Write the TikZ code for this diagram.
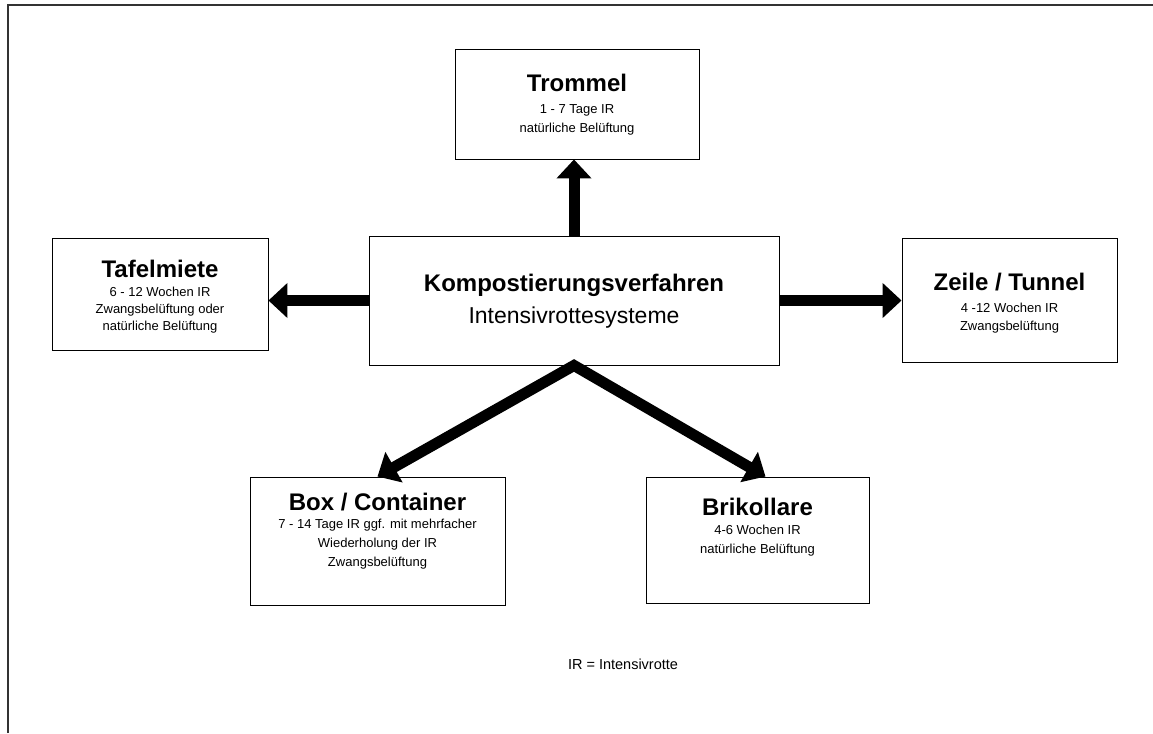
\documentclass[tikz,border=0pt]{standalone}
\usepackage{fontspec}
\setmainfont{Liberation Sans}
\usetikzlibrary{arrows.meta,calc}
\begin{document}
\begin{tikzpicture}[x=1pt,y=-1pt,
  box/.style={draw=black, line width=0.9pt, inner sep=0pt},
  ttl/.style={anchor=base, font=\fontsize{24}{28}\selectfont\bfseries, inner sep=0pt},
  sub/.style={anchor=base, font=\fontsize{13}{18.5}\selectfont, align=center, inner sep=0pt},
  bigarrow/.style={line width=11pt, line join=miter, -{Triangle[width=34pt,length=19pt]}},
  frameline/.style={line width=1.6pt, draw=black!80}]
\useasboundingbox (0,0) rectangle (1153,733);

% frame
\coordinate (fbl) at (8,733);
\coordinate (ftl) at (8,5);
\coordinate (ftr) at (1153,5);
\draw[frameline] (fbl) -- (ftl) -- (ftr);

% boxes
\node[box, minimum width=244pt, minimum height=110pt] (trommel) at (577,104) {};
\node[box, minimum width=410pt, minimum height=129pt] (center) at (574,300.5) {};
\node[box, minimum width=216pt, minimum height=112pt] (tafel) at (160,294) {};
\node[box, minimum width=215pt, minimum height=124pt] (zeile) at (1009.5,300) {};
\node[box, minimum width=255pt, minimum height=128pt] (boxc) at (377.5,541) {};
\node[box, minimum width=223pt, minimum height=126pt] (brik) at (757.5,540) {};

% texts (sub nodes: anchor base = baseline of last line)
\node[ttl] (trommelT) at (577,92) {Trommel};
\node[sub] (trommelS) at (577,132) {1 - 7 Tage IR\\natürliche Belüftung};

\node[ttl] (centerT) at (574,291) {Kompostierungsverfahren};
\node[anchor=base, inner sep=0pt, font=\fontsize{23}{27}\selectfont] (centerS) at (574,323) {Intensivrottesysteme};

\node[ttl] (tafelT) at (160,277) {Tafelmiete};
\node[sub, font=\fontsize{13}{17}\selectfont] (tafelS) at (160,330) {6 - 12 Wochen IR\\Zwangsbelüftung oder\\natürliche Belüftung};

\node[ttl] (zeileT) at (1009.5,290) {Zeile / Tunnel};
\node[sub, font=\fontsize{13}{18}\selectfont] (zeileS) at (1009.5,330) {4 -12 Wochen IR\\Zwangsbelüftung};

\node[ttl] (boxcT) at (377.5,510) {Box / Container};
\node[sub, font=\fontsize{13}{19}\selectfont] (boxcS) at (377.5,566) {7 - 14 Tage IR ggf. mit mehrfacher\\Wiederholung der IR\\Zwangsbelüftung};

\node[ttl] (brikT) at (757.5,515) {Brikollare};
\node[sub] (brikS) at (757.5,553) {4-6 Wochen IR\\natürliche Belüftung};

\node[anchor=base, inner sep=0pt, font=\fontsize{14.5}{18}\selectfont] (note) at (623,669) {IR = Intensivrotte};

% arrows
\draw[bigarrow] (center.north) -- (center.north |- trommel.south);
\draw[bigarrow] (center.west) -- (center.west -| tafel.east);
\draw[bigarrow] (center.east) -- (center.east -| zeile.west);
\draw[line width=11pt, line join=miter, {Triangle[width=34pt,length=19pt]}-{Triangle[width=34pt,length=19pt]}]
  (boxc.north) -- (center.south) -- ($(brik.north)+(8,0)$);
\end{tikzpicture}
\end{document}
